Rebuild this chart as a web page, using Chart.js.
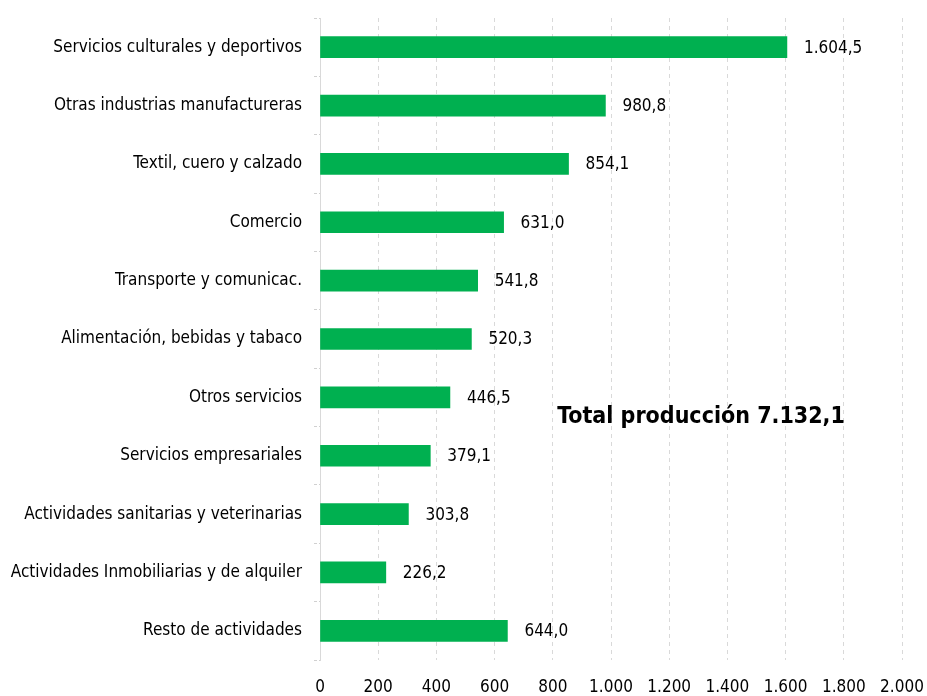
<!DOCTYPE html>
<html>
<head>
<meta charset="utf-8">
<script src="https://cdn.jsdelivr.net/npm/chart.js@4/dist/chart.umd.min.js"></script>
<style>
  html, body { margin: 0; padding: 0; background: #fff; }
  #wrap { width: 927px; height: 696px; }
</style>
</head>
<body>
<div id="wrap"><canvas id="chart"></canvas></div>
<script>
// values
const categories = [
  "Servicios culturales y deportivos",
  "Otras industrias manufactureras",
  "Textil, cuero y calzado",
  "Comercio",
  "Transporte y comunicac.",
  "Alimentación, bebidas y tabaco",
  "Otros servicios",
  "Servicios empresariales",
  "Actividades sanitarias y veterinarias",
  "Actividades Inmobiliarias y de alquiler",
  "Resto de actividades"
];
const produccion = [1604.5, 980.8, 854.1, 631.0, 541.8, 520.3, 446.5, 379.1, 303.8, 226.2, 644.0];
const totalLabel = "Total producción 7.132,1";

const FONT = "'DejaVu Sans Condensed', 'Liberation Sans Narrow', sans-serif";

const fmt1 = v => v.toLocaleString('de-DE', {minimumFractionDigits: 1, maximumFractionDigits: 1});
const fmt0 = v => v.toLocaleString('de-DE');

// value labels at the end of every bar + the total note
const labelsPlugin = {
  id: 'barLabels',
  afterDatasetsDraw(chart) {
    const ctx = chart.ctx;
    const meta = chart.getDatasetMeta(0);
    ctx.save();
    ctx.fillStyle = '#000';
    ctx.font = "17px " + FONT;
    ctx.textAlign = 'left';
    ctx.textBaseline = 'middle';
    meta.data.forEach((bar, i) => {
      ctx.fillText(fmt1(produccion[i]), bar.x + 17, bar.y + 1);
    });

    // total note, anchored on the scales
    const x = chart.scales.x.getPixelForValue(815);
    const y = chart.scales.y.getPixelForValue(6.33);
    ctx.font = "bold 23px " + FONT;
    ctx.fillText(totalLabel, x, y);
    ctx.restore();
  }
};

new Chart(document.getElementById('chart'), {
  type: 'bar',
  data: {
    labels: categories,
    datasets: [{
      data: produccion,
      backgroundColor: '#00B050',
      borderWidth: 0,
      barThickness: 21
    }]
  },
  options: {
    indexAxis: 'y',
    responsive: true,
    maintainAspectRatio: false,
    animation: false,
    layout: { padding: { top: 18, right: 0, bottom: 0, left: 0 } },
    plugins: {
      legend: { display: false },
      tooltip: { enabled: false }
    },
    scales: {
      x: {
        min: 0,
        max: 2000,
        afterFit(scale) {
          scale.height = 36;
          scale.paddingRight = 25;
        },
        ticks: {
          stepSize: 200,
          color: '#000',
          font: { family: FONT, size: 17 },
          padding: 17,
          maxRotation: 0,
          callback: v => fmt0(v)
        },
        grid: {
          color: '#d9d9d9',
          drawTicks: false,
          lineWidth: 1
        },
        border: { display: false, dash: [4, 4] }
      },
      y: {
        afterFit(scale) {
          scale.width = 320;
          scale.paddingTop = 0;
          scale.paddingBottom = 0;
        },
        ticks: {
          color: '#000',
          font: { family: FONT, size: 17 },
          padding: 12
        },
        grid: {
          offset: true,
          drawOnChartArea: false,
          drawTicks: true,
          tickLength: 6,
          color: '#d0d0d0',
          tickBorderDash: [3, 2]
        },
        border: { display: true, color: '#d9d9d9', dash: [4, 4] }
      }
    }
  },
  plugins: [labelsPlugin]
});
</script>
</body>
</html>
